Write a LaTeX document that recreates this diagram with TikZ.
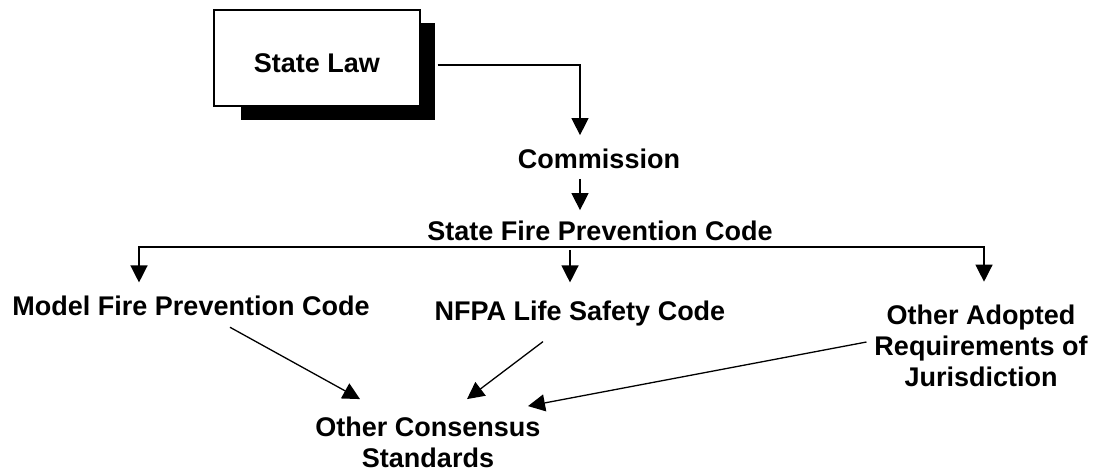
\documentclass[tikz,border=0pt]{standalone}
\usepackage{fontspec}
\setmainfont{Liberation Sans}
\usetikzlibrary{arrows.meta,calc}
\begin{document}
\begin{tikzpicture}[x=1pt,y=-1pt,
  txt/.style={font=\bfseries\fontsize{27}{31}\selectfont, inner sep=0pt, outer sep=0pt, align=center},
  arr/.style={line width=1.3pt, -{Triangle[length=17pt,width=17pt]}},
  lawbox/.style={draw, line width=1.3pt, fill=white, minimum width=206pt, minimum height=96pt, inner sep=0pt,
    font=\bfseries\fontsize{27}{31}\selectfont, text height=29.3pt, text depth=0pt}]
\useasboundingbox (0,0) rectangle (1099,474);
% shadow of the State Law box
\fill[black] (241,23) rectangle (435,120);
\node[lawbox] (law) at (317,58) {State Law};
\node[txt, anchor=base] (comm) at (599,168.7) {Commission};
\node[txt, anchor=base] (sfpc) at (600,240.7) {State Fire Prevention Code};
\node[txt, anchor=base] (model) at (191,315) {Model Fire Prevention Code};
\node[txt, anchor=base] (nfpa) at (580,320) {NFPA Life Safety Code};
\node[txt] (other) at (981,346) {Other Adopted\\Requirements of\\Jurisdiction};
\node[txt] (cons) at (428,442.5) {Other Consensus\\Standards};
\coordinate (bar) at ([yshift=-6pt]sfpc.south);
% connectors
\draw[arr] ([shift={(17,7)}]law.east) -| ([shift={(-19,-14)}]comm.north);
\draw[arr] ([shift={(-19,10)}]comm.south) -- ([shift={(-20,-11)}]sfpc.north);
\draw[arr] (bar) -| ([shift={(-52,-13)}]model.north);
\draw[arr] (bar) -| ([shift={(3,-23.4)}]other.north);
\draw[arr] ([shift={(-30,3)}]bar) -- ([shift={(-10,-18)}]nfpa.north);
\draw[arr] ([shift={(39,12)}]model.south) -- ([shift={(-68,-18)}]cons.north);
\draw[arr] ([shift={(-37,16)}]nfpa.south) -- ([shift={(39,-18)}]cons.north);
\draw[arr] ([shift={(-8,-4)}]other.west) -- ([shift={(100,-11)}]cons.north);
\end{tikzpicture}
\end{document}
